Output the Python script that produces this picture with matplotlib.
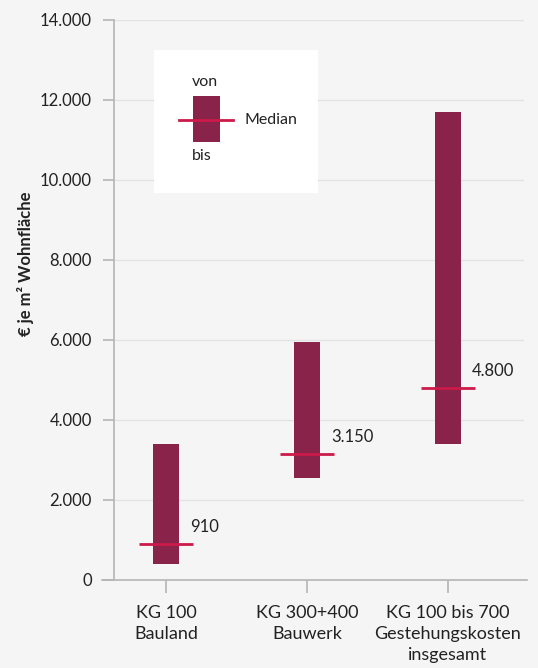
import matplotlib.pyplot as plt
from matplotlib.lines import Line2D
from matplotlib.patches import Rectangle

categories = ["KG 100\nBauland", "KG 300+400\nBauwerk", "KG 100 bis 700\nGestehungskosten\ninsgesamt"]
von = [3400, 5950, 11700]
bis = [400, 2550, 3400]
median = [910, 3150, 4800]
median_labels = ["910", "3.150", "4.800"]
yticks = [0, 2000, 4000, 6000, 8000, 10000, 12000, 14000]
ytick_labels = ["0", "2.000", "4.000", "6.000", "8.000", "10.000", "12.000", "14.000"]

bar_color = "#8a2349"
median_color = "#cc1a4a"
bg = "#f5f5f5"
text_color = "#222222"
axis_color = "#b5b5b5"

plt.rcParams["font.family"] = ["Lato", "DejaVu Sans"]

fig = plt.figure(figsize=(5.38, 6.68), dpi=100, facecolor=bg)
W, H = 538, 668
ax = fig.add_axes([114 / W, 88 / H, 410 / W, 560 / H], facecolor=bg)

x = list(range(len(categories)))
heights = [v - b for v, b in zip(von, bis)]
ax.bar(x, heights, bottom=bis, width=0.19, color=bar_color, zorder=3)
ax.hlines(median, [i - 0.19 for i in x], [i + 0.19 for i in x],
          color=median_color, linewidth=2, zorder=4)
for i, m, lab in zip(x, median, median_labels):
    ax.annotate(lab, (i + 0.19, m), xytext=(-2, 12), textcoords="offset points",
                ha="left", va="center", fontsize=12, color=text_color)
ax.set_xlim(-0.369, 2.54)
ax.set_ylim(0, 14000)
ax.set_yticks(yticks)
ax.set_yticklabels(ytick_labels)
ax.set_xticks(x)
ax.set_xticklabels(categories, linespacing=1.4)
ax.grid(axis="y", color="#e2e2e2", linewidth=1, zorder=0)

for s in ["top", "right", "bottom"]:
    ax.spines[s].set_visible(False)
ax.spines["left"].set_color(axis_color)
ax.spines["left"].set_linewidth(1.2)
ax.tick_params(axis="y", length=8, width=1.2, color=axis_color, labelsize=12,
               labelcolor=text_color, pad=8)
ax.tick_params(axis="x", length=9, width=1.2, color=axis_color, labelsize=13,
               labelcolor=text_color, pad=9)

# extended x-axis baseline
ax.add_line(Line2D([(102 - 114) / 410, (527 - 114) / 410], [0, 0], transform=ax.transAxes,
                   color=axis_color, linewidth=1.2, clip_on=False, zorder=5))

ax.set_ylabel("€ je m² Wohnfläche", fontsize=12, fontweight="bold", color=text_color)
ax.yaxis.set_label_coords((34 - 114) / 410, (580 - 264) / 560)

# legend box
def ax_fx(px):
    return (px - 114) / 410

def ax_fy(py):
    return (580 - py) / 560

ax.add_patch(Rectangle((ax_fx(154), ax_fy(193)), (318 - 154) / 410, (193 - 50) / 560,
                       transform=ax.transAxes, facecolor="white", edgecolor="none", zorder=6))
ax.add_patch(Rectangle((ax_fx(193), ax_fy(142)), 27 / 410, 46 / 560,
                       transform=ax.transAxes, facecolor=bar_color, edgecolor="none", zorder=7))
ax.add_line(Line2D([ax_fx(179), ax_fx(233)], [ax_fy(120), ax_fy(120)], transform=ax.transAxes,
                   color=median_color, linewidth=2, zorder=8))
ax.text(ax_fx(192), ax_fy(82), "von", transform=ax.transAxes, fontsize=11.5, color=text_color,
        ha="left", va="center", zorder=8)
ax.text(ax_fx(192), ax_fy(156), "bis", transform=ax.transAxes, fontsize=11.5, color=text_color,
        ha="left", va="center", zorder=8)
ax.text(ax_fx(245), ax_fy(120), "Median", transform=ax.transAxes, fontsize=11.5, color=text_color,
        ha="left", va="center", zorder=8)

fig.savefig("out.png", dpi=100, facecolor=bg)
